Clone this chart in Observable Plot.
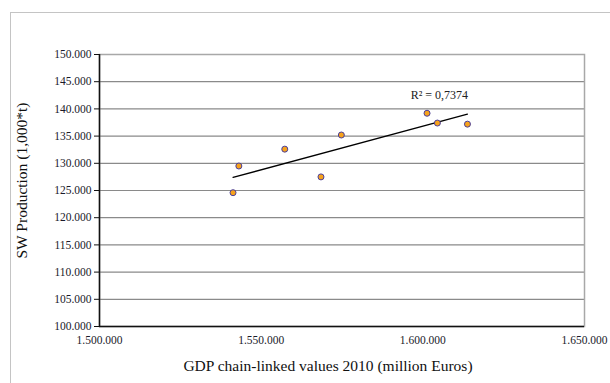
<!DOCTYPE html>
<html>
<head>
<meta charset="utf-8">
<script src="https://cdn.jsdelivr.net/npm/d3@7"></script>
<script src="https://cdn.jsdelivr.net/npm/@observablehq/plot@0.6"></script>
<style>
  html, body { margin: 0; padding: 0; background: #fff; }
  #wrap { position: relative; width: 610px; height: 383px; overflow: hidden; }
  #border { position: absolute; left: 10px; top: 12px; width: 640px; height: 420px;
            border: 1.5px solid #c4c4c4; box-sizing: border-box; }
  #chart { position: absolute; left: 0; top: 0; }
  #chart svg text { font-family: 'Liberation Serif', 'DejaVu Serif', serif; }
</style>
</head>
<body>
<div id="wrap">
  <div id="border"></div>
  <div id="chart"></div>
</div>
<script>
// GDP (million Euros, chain-linked 2010) vs. SW production (1,000 t)
const gdp = [1541300, 1543100, 1557300, 1568500, 1574800, 1601300, 1604500, 1613800];
const swProduction = [124600, 129500, 132600, 127500, 135200, 139200, 137400, 137200];

const xTicks = [1500000, 1550000, 1600000, 1650000];
const yTicks = [100000, 105000, 110000, 115000, 120000, 125000, 130000, 135000, 140000, 145000, 150000];

const rSquaredLabel = "R² = 0,7374";
const xTitle = "GDP chain-linked values 2010 (million Euros)";
const yTitle = "SW Production (1,000*t)";

const points = gdp.map((x, i) => ({x, y: swProduction[i]}));

const fmt = d3.formatLocale({decimal: ",", thousands: ".", grouping: [3], currency: ["", "€"]}).format(",d");

const serif = "'Liberation Serif', 'DejaVu Serif', serif";

const chart = Plot.plot({
  width: 610,
  height: 383,
  marginLeft: 99,
  marginRight: 26,
  marginTop: 54,
  marginBottom: 57,
  style: {fontFamily: serif, fontSize: "11px", color: "#1a1a2a", background: "transparent", overflow: "visible"},
  x: {domain: [1500000, 1650000]},
  y: {domain: [100000, 150000]},
  marks: [
    Plot.ruleY(yTicks.slice(1, -1), {stroke: "#8a8a8a", strokeWidth: 1.2}),
    Plot.frame({stroke: "#a8a8a8", strokeWidth: 1.5}),
    Plot.axisY(yTicks, {tickFormat: fmt, tickSize: 5, tickPadding: 3, label: null, stroke: "#111", fontSize: 11.5}),
    Plot.axisX(xTicks, {tickFormat: fmt, tickSize: 0, tickPadding: 9, label: null, fontSize: 11.5}),
    Plot.ruleX([1500000], {stroke: "#111", strokeWidth: 1.5}),
    Plot.ruleY([100000], {stroke: "#111", strokeWidth: 1.5}),
    Plot.linearRegressionY(points, {x: "x", y: "y", stroke: "#000", strokeWidth: 1.3, ci: 0}),
    Plot.dot(points, {x: "x", y: "y", r: 3, fill: "#f6a21c", stroke: "#4a3f9c", strokeWidth: 1}),
    Plot.text([rSquaredLabel], {x: 1614000, y: 142600, textAnchor: "end", fontSize: 12, fill: "#222"}),
    Plot.text([xTitle], {frameAnchor: "bottom", dy: 44, dx: -14, fontSize: 15.5, fill: "#111"}),
    Plot.text([yTitle], {frameAnchor: "left", textAnchor: "middle", rotate: -90, dx: -77, dy: -10, fontSize: 15.5, fill: "#111"})
  ]
});

document.getElementById("chart").appendChild(chart);
</script>
</body>
</html>
